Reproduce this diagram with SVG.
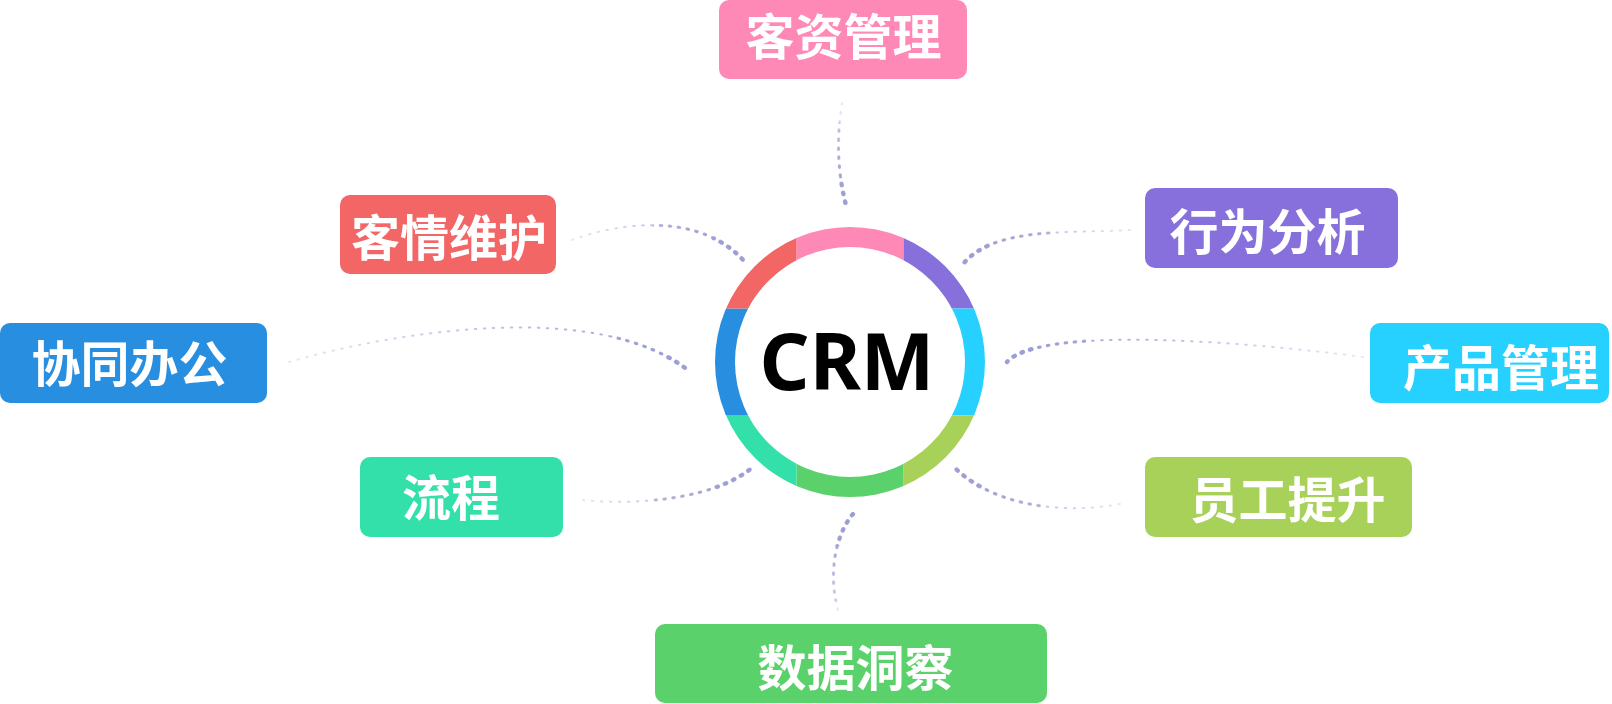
<svg xmlns="http://www.w3.org/2000/svg" xmlns:xlink="http://www.w3.org/1999/xlink" width="1612" height="704" viewBox="0 0 1612 704">
<style>
.box-text{font-family:"Noto Sans CJK SC","Noto Sans",sans-serif;font-weight:700;font-size:49px;fill:#ffffff;text-anchor:middle;dominant-baseline:central}
.crm{font-family:"Noto Sans","Open Sans",sans-serif;font-weight:700;font-size:78px;fill:#000000;text-anchor:middle}
.lnk{fill:none;stroke-linecap:round;stroke-dasharray:1.5 7.5}
.w1{stroke-width:2}
.w2{stroke-width:3.2}
.w3{stroke-width:4.4}
</style>
<defs>
<path id="ring" fill-rule="evenodd" d="M985 362A135 135 0 1 0 715 362A135 135 0 1 0 985 362ZM965 362A115 115 0 1 0 735 362A115 115 0 1 0 965 362Z"/>
<clipPath id="cPink"><rect x="796.5" y="200" width="107" height="162"/></clipPath>
<clipPath id="cGreen"><rect x="796.5" y="362" width="107" height="160"/></clipPath>
<clipPath id="cRed"><rect x="700" y="200" width="96.5" height="108.5"/></clipPath>
<clipPath id="cBlue"><rect x="700" y="308.5" width="96.5" height="107"/></clipPath>
<clipPath id="cTeal"><rect x="700" y="415.5" width="96.5" height="110"/></clipPath>
<clipPath id="cPurple"><rect x="903.5" y="200" width="100" height="108.5"/></clipPath>
<clipPath id="cCyan"><rect x="903.5" y="308.5" width="100" height="107"/></clipPath>
<clipPath id="cYg"><rect x="903.5" y="415.5" width="100" height="110"/></clipPath>
<clipPath id="near1"><circle cx="850" cy="362" r="240"/></clipPath>
<clipPath id="near2"><circle cx="850" cy="362" r="185"/></clipPath>
<linearGradient id="g1" gradientUnits="userSpaceOnUse" x1="842" y1="103" x2="846" y2="205"><stop offset="0" stop-color="#9d9fd4" stop-opacity="0.25"/><stop offset="1" stop-color="#9d9fd4"/></linearGradient>
<linearGradient id="g2" gradientUnits="userSpaceOnUse" x1="572" y1="240" x2="744" y2="261"><stop offset="0" stop-color="#9d9fd4" stop-opacity="0.25"/><stop offset="1" stop-color="#9d9fd4"/></linearGradient>
<linearGradient id="g3" gradientUnits="userSpaceOnUse" x1="289" y1="362" x2="689" y2="371"><stop offset="0" stop-color="#9d9fd4" stop-opacity="0.25"/><stop offset="1" stop-color="#9d9fd4"/></linearGradient>
<linearGradient id="g4" gradientUnits="userSpaceOnUse" x1="583" y1="500" x2="755" y2="465"><stop offset="0" stop-color="#9d9fd4" stop-opacity="0.25"/><stop offset="1" stop-color="#9d9fd4"/></linearGradient>
<linearGradient id="g5" gradientUnits="userSpaceOnUse" x1="838" y1="610" x2="853" y2="514"><stop offset="0" stop-color="#9d9fd4" stop-opacity="0.25"/><stop offset="1" stop-color="#9d9fd4"/></linearGradient>
<linearGradient id="g6" gradientUnits="userSpaceOnUse" x1="1130" y1="230" x2="960" y2="268"><stop offset="0" stop-color="#9d9fd4" stop-opacity="0.25"/><stop offset="1" stop-color="#9d9fd4"/></linearGradient>
<linearGradient id="g7" gradientUnits="userSpaceOnUse" x1="1363" y1="357" x2="1007" y2="362"><stop offset="0" stop-color="#9d9fd4" stop-opacity="0.25"/><stop offset="1" stop-color="#9d9fd4"/></linearGradient>
<linearGradient id="g8" gradientUnits="userSpaceOnUse" x1="1120" y1="504" x2="952" y2="465"><stop offset="0" stop-color="#9d9fd4" stop-opacity="0.25"/><stop offset="1" stop-color="#9d9fd4"/></linearGradient>
<g id="links" class="lnk">
<path stroke="url(#g1)" d="M842 103C836 140 838 175 846 205"/>
<path stroke="url(#g2)" d="M572 240C620 222 700 212 744 261"/>
<path stroke="url(#g3)" d="M289 362C400 330 600 300 689 371"/>
<path stroke="url(#g4)" d="M583 500C640 506 720 498 755 465"/>
<path stroke="url(#g5)" d="M838 610C828 575 835 535 853 514"/>
<path stroke="url(#g6)" d="M1130 230C1070 234 990 225 960 268"/>
<path stroke="url(#g7)" d="M1363 357C1250 342 1040 325 1007 362"/>
<path stroke="url(#g8)" d="M1120 504C1060 515 990 505 952 465"/>
</g>
</defs>
<rect x="0" y="0" width="1612" height="704" fill="#ffffff"/>
<g id="connectors">
<use xlink:href="#links" class="w1"/>
<use xlink:href="#links" class="w2" clip-path="url(#near1)"/>
<use xlink:href="#links" class="w3" clip-path="url(#near2)"/>
</g>
<g id="crm">
<use xlink:href="#ring" fill="#ff89b6" clip-path="url(#cPink)"/>
<use xlink:href="#ring" fill="#8870dc" clip-path="url(#cPurple)"/>
<use xlink:href="#ring" fill="#27d1ff" clip-path="url(#cCyan)"/>
<use xlink:href="#ring" fill="#a8d15a" clip-path="url(#cYg)"/>
<use xlink:href="#ring" fill="#5ad16b" clip-path="url(#cGreen)"/>
<use xlink:href="#ring" fill="#33e0a9" clip-path="url(#cTeal)"/>
<use xlink:href="#ring" fill="#288edf" clip-path="url(#cBlue)"/>
<use xlink:href="#ring" fill="#f26666" clip-path="url(#cRed)"/>
<text class="crm" x="847" y="390">CRM</text>
</g>
<g id="node-kezi">
<rect x="719" y="0" width="248" height="79" rx="10" fill="#ff89b6"/>
<text class="box-text" x="843.5" y="33">客资管理</text>
</g>
<g id="node-keqing">
<rect x="340" y="195" width="216" height="79" rx="10" fill="#f26666"/>
<text class="box-text" x="449" y="234.5">客情维护</text>
</g>
<g id="node-xietong">
<rect x="0" y="323" width="267" height="80" rx="10" fill="#288edf"/>
<text class="box-text" x="129.5" y="360.5">协同办公</text>
</g>
<g id="node-liucheng">
<rect x="360" y="457" width="203" height="80" rx="10" fill="#33e0a9"/>
<text class="box-text" x="451" y="494.5">流程</text>
</g>
<g id="node-shuju">
<rect x="655" y="624" width="392" height="79" rx="10" fill="#5ad16b"/>
<text class="box-text" x="855.5" y="664.5">数据洞察</text>
</g>
<g id="node-xingwei">
<rect x="1145" y="188" width="253" height="80" rx="10" fill="#8870dc"/>
<text class="box-text" x="1267.5" y="228.5">行为分析</text>
</g>
<g id="node-chanpin">
<rect x="1370" y="323" width="239" height="80" rx="10" fill="#27d1ff"/>
<text class="box-text" x="1501" y="364">产品管理</text>
</g>
<g id="node-yuangong">
<rect x="1145" y="457" width="267" height="80" rx="10" fill="#a8d15a"/>
<text class="box-text" x="1287.5" y="496.5">员工提升</text>
</g>
</svg>
